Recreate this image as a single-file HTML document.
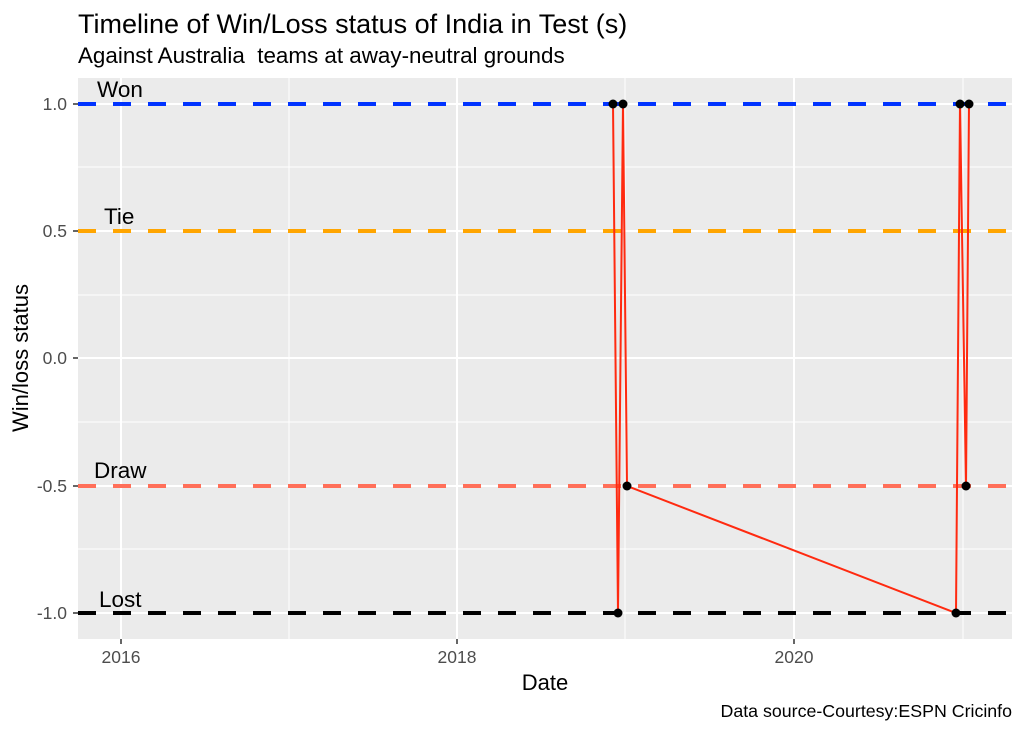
<!DOCTYPE html>
<html><head><style>body{margin:0;background:#fff}svg{display:block}</style></head><body>
<svg width="1023" height="731" xmlns="http://www.w3.org/2000/svg" font-family="Liberation Sans, sans-serif">
<rect width="1023" height="731" fill="#fff"/>
<text x="78" y="33" font-size="27" fill="#000">Timeline of Win/Loss status of India in Test (s)</text>
<text x="78" y="63" font-size="22.4" fill="#000" style="white-space:pre">Against Australia  teams at away-neutral grounds</text>
<rect x="78" y="78" width="934" height="561" fill="#ebebeb"/>
<g stroke="#fff" stroke-width="1">
<line x1="78" x2="1012" y1="167" y2="167"/><line x1="78" x2="1012" y1="295" y2="295"/>
<line x1="78" x2="1012" y1="422" y2="422"/><line x1="78" x2="1012" y1="549" y2="549"/>
<line x1="289" x2="289" y1="78" y2="639"/><line x1="625" x2="625" y1="78" y2="639"/><line x1="963" x2="963" y1="78" y2="639"/>
</g>
<g stroke="#fff" stroke-width="2">
<line x1="78" x2="1012" y1="104" y2="104"/><line x1="78" x2="1012" y1="231" y2="231"/>
<line x1="78" x2="1012" y1="358" y2="358"/><line x1="78" x2="1012" y1="486" y2="486"/><line x1="78" x2="1012" y1="613" y2="613"/>
<line x1="121" x2="121" y1="78" y2="639"/><line x1="457" x2="457" y1="78" y2="639"/><line x1="794" x2="794" y1="78" y2="639"/>
</g>
<g stroke-width="4" stroke-dasharray="18 17">
<line x1="78" x2="1012" y1="104" y2="104" stroke="#0033ff"/>
<line x1="78" x2="1012" y1="231" y2="231" stroke="#ffa500"/>
<line x1="78" x2="1012" y1="486" y2="486" stroke="#ff6f59"/>
<line x1="78" x2="1012" y1="613" y2="613" stroke="#000"/>
</g>
<g font-size="22.5" fill="#000">
<text x="97" y="97">Won</text><text x="104" y="224">Tie</text>
<text x="94" y="478">Draw</text><text x="99" y="607">Lost</text>
</g>
<polyline fill="none" stroke="#ff2a10" stroke-width="2" points="613,104 618,613 623,104 627,486 956,613 960,104 966,486 969,104"/>
<g fill="#000">
<circle cx="613" cy="104" r="4.5"/><circle cx="618" cy="613" r="4.5"/><circle cx="623" cy="104" r="4.5"/><circle cx="627" cy="486" r="4.5"/>
<circle cx="956" cy="613" r="4.5"/><circle cx="960" cy="104" r="4.5"/><circle cx="966" cy="486" r="4.5"/><circle cx="969" cy="104" r="4.5"/>
</g>
<g stroke="#333" stroke-width="1.5">
<line x1="73" x2="78" y1="104" y2="104"/><line x1="73" x2="78" y1="231" y2="231"/><line x1="73" x2="78" y1="358" y2="358"/>
<line x1="73" x2="78" y1="486" y2="486"/><line x1="73" x2="78" y1="613" y2="613"/>
<line x1="121" x2="121" y1="639" y2="644"/><line x1="457" x2="457" y1="639" y2="644"/><line x1="794" x2="794" y1="639" y2="644"/>
</g>
<g font-size="17.5" fill="#4d4d4d" text-anchor="end">
<text x="67" y="110">1.0</text><text x="67" y="237">0.5</text><text x="67" y="364">0.0</text>
<text x="67" y="492">-0.5</text><text x="67" y="619">-1.0</text>
</g>
<g font-size="17.5" fill="#4d4d4d" text-anchor="middle">
<text x="121" y="663">2016</text><text x="457" y="663">2018</text><text x="794" y="663">2020</text>
</g>
<text x="545" y="690" font-size="22" text-anchor="middle">Date</text>
<text transform="translate(28,358) rotate(-90)" font-size="22" text-anchor="middle">Win/loss status</text>
<text x="1012" y="717" font-size="17.8" text-anchor="end">Data source-Courtesy:ESPN Cricinfo</text>
</svg>
</body></html>
